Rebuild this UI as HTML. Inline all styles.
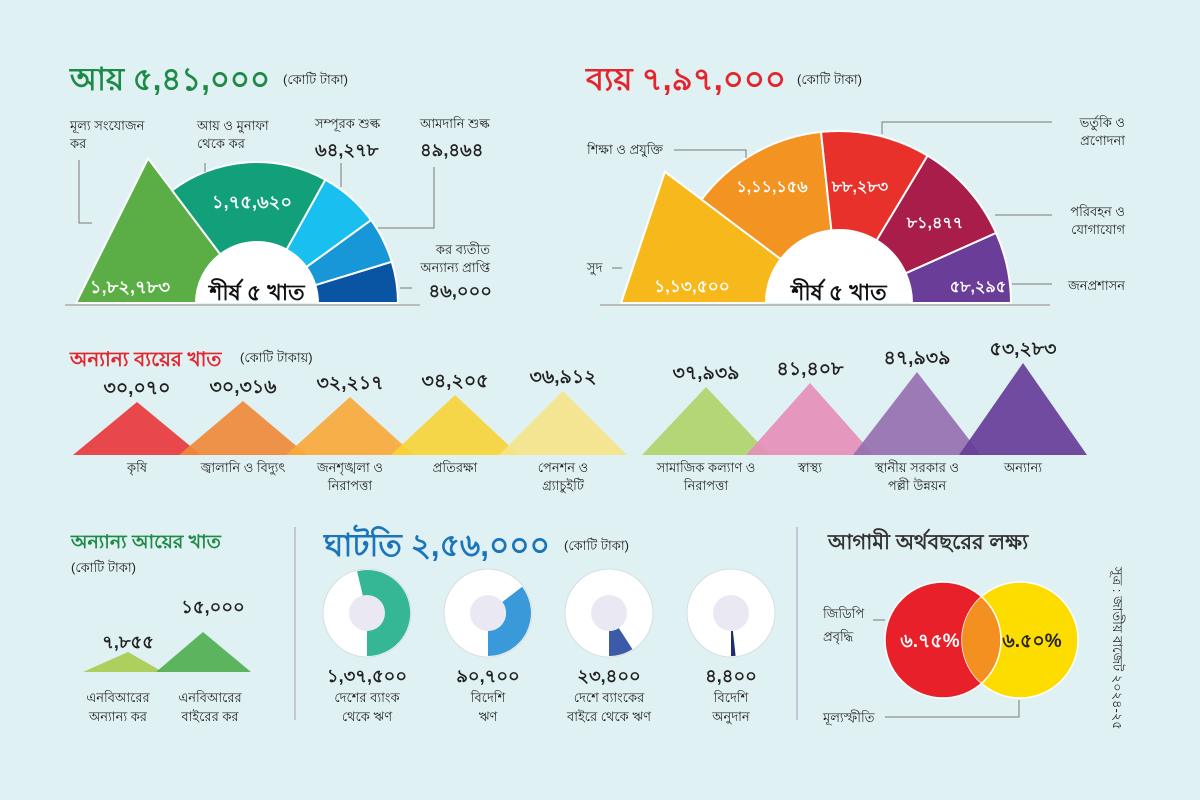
<!DOCTYPE html>
<html><head><meta charset="utf-8"><style>
html,body{margin:0;padding:0;background:#e0f1f4;}
svg{display:block;font-family:"Liberation Sans","Noto Sans CJK SC",sans-serif;}
.t{font-size:13px;fill:#222}
.v{font-size:18px;font-weight:bold;fill:#222}
.ln{stroke:#777;stroke-width:1;fill:none}
</style></head><body>
<svg id="s" width="1200" height="800" viewBox="0 0 1200 800" xmlns="http://www.w3.org/2000/svg">
<rect width="1200" height="800" fill="#e0f1f4"/>
<text x="70" y="90" font-size="32" font-weight="bold" fill="#1e8a47" textLength="200" lengthAdjust="spacingAndGlyphs">আয় ৫,৪১,০০০</text>
<text x="283" y="84" class="t">(কোটি টাকা)</text>
<text x="586" y="90" font-size="32" font-weight="bold" fill="#e3262d" textLength="200" lengthAdjust="spacingAndGlyphs">ব্যয় ৭,৯৭,০০০</text>
<text x="797" y="84" class="t">(কোটি টাকা)</text>

<line x1="65" y1="305" x2="420" y2="305" stroke="#bbb" stroke-width="2"/>
<line x1="600" y1="305" x2="1050" y2="305" stroke="#bbb" stroke-width="2"/>
<g id="left"></g>
<g id="right"></g>

<text x="70" y="130" class="t">মূল্য সংযোজন</text><text x="70" y="148" class="t">কর</text>
<text x="197" y="130" class="t">আয় ও মুনাফা</text><text x="197" y="148" class="t">থেকে কর</text>
<text x="315" y="128" class="t">সম্পূরক শুল্ক</text><text x="315" y="156" class="v">৬৪,২৭৮</text>
<text x="420" y="128" class="t">আমদানি শুল্ক</text><text x="420" y="156" class="v">৪৯,৪৬৪</text>
<text x="490" y="254" class="t" text-anchor="end">কর ব্যতীত</text>
<text x="490" y="272" class="t" text-anchor="end">অন্যান্য প্রাপ্তি</text>
<text x="492" y="297" class="v" text-anchor="end">৪৬,০০০</text>
<polyline class="ln" points="79,160 79,223 92,223"/>
<polyline class="ln" points="205,163 205,172"/>
<polyline class="ln" points="341,163 341,187"/>
<polyline class="ln" points="434,167 434,228 378,228"/>
<polyline class="ln" points="400,288 412,288"/>
<text x="1125" y="127" class="t" text-anchor="end">ভর্তুকি ও</text><text x="1125" y="145" class="t" text-anchor="end">প্রণোদনা</text>
<text x="1125" y="216" class="t" text-anchor="end">পরিবহন ও</text><text x="1125" y="234" class="t" text-anchor="end">যোগাযোগ</text>
<text x="1125" y="290" class="t" text-anchor="end">জনপ্রশাসন</text>
<text x="587" y="154" class="t">শিক্ষা ও প্রযুক্তি</text>
<text x="587" y="272" class="t">সুদ</text>
<polyline class="ln" points="1052,122 882,122 882,134"/>
<polyline class="ln" points="1052,215 995,215"/>
<polyline class="ln" points="1052,284 1012,284"/>
<polyline class="ln" points="674,150 746,150 746,158"/>
<polyline class="ln" points="612,268 622,268"/>

<text x="70" y="366" font-size="20" font-weight="bold" fill="#e3262d">অন্যান্য ব্যয়ের খাত</text>
<text x="240" y="362" class="t">(কোটি টাকায়)</text>
<g id="tri"></g>

<text x="71" y="548" font-size="19" font-weight="bold" fill="#1e8a47">অন্যান্য আয়ের খাত</text>
<text x="71" y="572" class="t">(কোটি টাকা)</text>
<polygon points="83,672 128,652 163,672" fill="#a9cc55" opacity="0.95"/>
<polygon points="156,672 203,632 251,672" fill="#4fad4f" opacity="0.9"/>
<text x="128" y="648" class="v" text-anchor="middle">৭,৮৫৫</text>
<text x="213" y="613" class="v" text-anchor="middle">১৫,০০০</text>
<text x="118" y="702" class="t" text-anchor="middle">এনবিআরের</text><text x="118" y="721" class="t" text-anchor="middle">অন্যান্য কর</text>
<text x="210" y="702" class="t" text-anchor="middle">এনবিআরের</text><text x="210" y="721" class="t" text-anchor="middle">বাইরের কর</text>
<line x1="295" y1="527" x2="295" y2="720" stroke="#bbc" stroke-width="1.5"/>
<line x1="797" y1="527" x2="797" y2="720" stroke="#bbc" stroke-width="1.5"/>

<text x="324" y="556" font-size="32" font-weight="bold" fill="#1b75bb" textLength="226" lengthAdjust="spacingAndGlyphs">ঘাটতি ২,৫৬,০০০</text>
<text x="564" y="550" class="t">(কোটি টাকা)</text>
<g id="don"></g>
<text x="367" y="682" class="v" text-anchor="middle">১,৩৭,৫০০</text>
<text x="488" y="682" class="v" text-anchor="middle">৯০,৭০০</text>
<text x="609" y="682" class="v" text-anchor="middle">২৩,৪০০</text>
<text x="731" y="682" class="v" text-anchor="middle">৪,৪০০</text>
<text x="367" y="702" class="t" text-anchor="middle">দেশের ব্যাংক</text><text x="367" y="721" class="t" text-anchor="middle">থেকে ঋণ</text>
<text x="488" y="702" class="t" text-anchor="middle">বিদেশি</text><text x="488" y="721" class="t" text-anchor="middle">ঋণ</text>
<text x="609" y="702" class="t" text-anchor="middle">দেশে ব্যাংকের</text><text x="609" y="721" class="t" text-anchor="middle">বাইরে থেকে ঋণ</text>
<text x="731" y="702" class="t" text-anchor="middle">বিদেশি</text><text x="731" y="721" class="t" text-anchor="middle">অনুদান</text>

<text x="828" y="549" font-size="21" font-weight="bold" fill="#333">আগামী অর্থবছরের লক্ষ্য</text>
<circle cx="943" cy="640" r="58" fill="#e8202a"/>
<circle cx="1020" cy="640" r="58" fill="#fddc00" stroke="#fff" stroke-width="1.5"/>
<clipPath id="cr"><circle cx="943" cy="640" r="58"/></clipPath>
<circle cx="1020" cy="640" r="58" fill="#f39020" clip-path="url(#cr)"/>
<circle cx="943" cy="640" r="58" fill="none" stroke="#fff" stroke-width="1.5"/>
<text x="930" y="647" font-size="19" font-weight="bold" fill="#fff" text-anchor="middle">৬.৭৫%</text>
<text x="1032" y="647" font-size="19" font-weight="bold" fill="#222" text-anchor="middle">৬.৫০%</text>
<text x="823" y="618" class="t">জিডিপি</text><text x="823" y="641" class="t">প্রবৃদ্ধি</text>
<line x1="873" y1="620" x2="885" y2="620" class="ln"/>
<text x="823" y="722" class="t">মূল্যস্ফীতি</text>
<polyline class="ln" points="885,717 1019,717 1019,700"/>
<text transform="translate(1113,567) rotate(90)" class="t">সূত্র : জাতীয় বাজেট ২০২৪-২৫</text>
</svg>
<script>
var NS="http://www.w3.org/2000/svg";
function P(cx,cy,r,a){var t=a*Math.PI/180;return [cx+r*Math.cos(t),cy-r*Math.sin(t)];}
function f(p){return p[0].toFixed(1)+","+p[1].toFixed(1);}
function sec(cx,cy,ro,ri,a1,a2,straight){
 var o1=P(cx,cy,ro,a1),o2=P(cx,cy,ro,a2),i1=P(cx,cy,ri,a1),i2=P(cx,cy,ri,a2);
 var lg=(a1-a2)>180?1:0;
 return "M"+f(o1)+(straight?" L"+f(o2):" A"+ro+","+ro+" 0 "+lg+" 1 "+f(o2))+" L"+f(i2)+" A"+ri+","+ri+" 0 0 0 "+f(i1)+"Z";}
function add(g,tag,at){var e=document.createElementNS(NS,tag);for(var k in at)e.setAttribute(k,at[k]);document.getElementById(g).appendChild(e);return e;}
function txt(g,x,y,s,c,sz){var e=add(g,"text",{x:x,y:y,"text-anchor":"middle",fill:c,"font-size":sz||18,"font-weight":"bold"});e.textContent=s;}
var L=[[180,127,181,"#5aae45",1],[127,61,141,"#12a07a"],[61,36,141,"#19c0ef"],[36,17,141,"#1797d8"],[17,0,141,"#0a55a3"]];
L.forEach(function(s){add("left","path",{d:sec(257,303,s[2],61,s[0],s[1],s[4]),fill:s[3],stroke:"#fff","stroke-width":2});});
add("left","path",{d:"M196,303 A61,61 0 0 1 318,303Z",fill:"#fff"});
txt("left",130,293,"১,৮২,৭৮৩","#fff");txt("left",252,208,"১,৭৫,৬২০","#fff");
txt("left",257,300,"শীর্ষ ৫ খাত","#111",22);
var R=[[180,143,218,"#f6b81a",1],[143,96,172,"#f39322"],[96,59,172,"#e8312a"],[59,24,172,"#a81d4a"],[24,0,172,"#6a3d98"]];
R.forEach(function(s){add("right","path",{d:sec(839,303,s[2],73,s[0],s[1],s[4]),fill:s[3],stroke:"#fff","stroke-width":2});});
add("right","path",{d:"M766,303 A73,73 0 0 1 912,303Z",fill:"#fff"});
txt("right",692,292,"১,১৩,৫০০","#fff",17);txt("right",772,192,"১,১১,১৫৬","#fff",16);txt("right",860,192,"৮৮,২৮৩","#fff",16);
txt("right",935,228,"৮১,৪৭৭","#fff",16);txt("right",978,292,"৫৮,২৯৫","#fff",16);
txt("right",839,300,"শীর্ষ ৫ খাত","#111",22);
var T=[[137,402,"#e8383d","৩০,০৭০",["কৃষি"]],[243,401,"#f08a3a","৩০,৩১৬",["জ্বালানি ও বিদ্যুৎ"]],[350,397,"#f8a93a","৩২,২১৭",["জনশৃঙ্খলা ও","নিরাপত্তা"]],
[455,395,"#f7d43a","৩৪,২০৫",["প্রতিরক্ষা"]],[563,391,"#f5e48a","৩৬,৯১২",["পেনশন ও","গ্র্যাচুইটি"]],[706,387,"#b1d46a","৩৭,৯৩৯",["সামাজিক কল্যাণ ও","নিরাপত্তা"]],
[810,383,"#e58fb8","৪১,৪০৮",["স্বাস্থ্য"]],[917,372,"#9670b0","৪৭,৯৩৯",["স্থানীয় সরকার ও","পল্লী উন্নয়ন"]],[1023,363,"#663d98","৫৩,২৮৩",["অন্যান্য"]]];
T.forEach(function(t){
 add("tri","polygon",{points:(t[0]-64)+",455 "+t[0]+","+t[1]+" "+(t[0]+64)+",455",fill:t[2],"fill-opacity":0.92});
 txt("tri",t[0],t[1]-8,t[3],"#222",19);
 t[4].forEach(function(l,i){var e=add("tri","text",{x:t[0],y:472+i*18,"text-anchor":"middle","font-size":13,fill:"#222"});e.textContent=l;});
});
var D=[[367,137500,"#35b795"],[488,90700,"#3a9ad9"],[609,23400,"#3b5ba8"],[731,4400,"#1c2f6f"]];
D.forEach(function(d){
 add("don","circle",{cx:d[0],cy:613,r:44,fill:"#fff",stroke:"#d6dde4","stroke-width":1});
 var fr=d[1]/256000, a2=-90, a1=-90+360*fr;
 add("don","path",{d:sec(d[0],613,43,18,a1,a2),fill:d[2]});
 add("don","circle",{cx:d[0],cy:613,r:18,fill:"#e9e8f3"});
});
</script>
</body></html>
